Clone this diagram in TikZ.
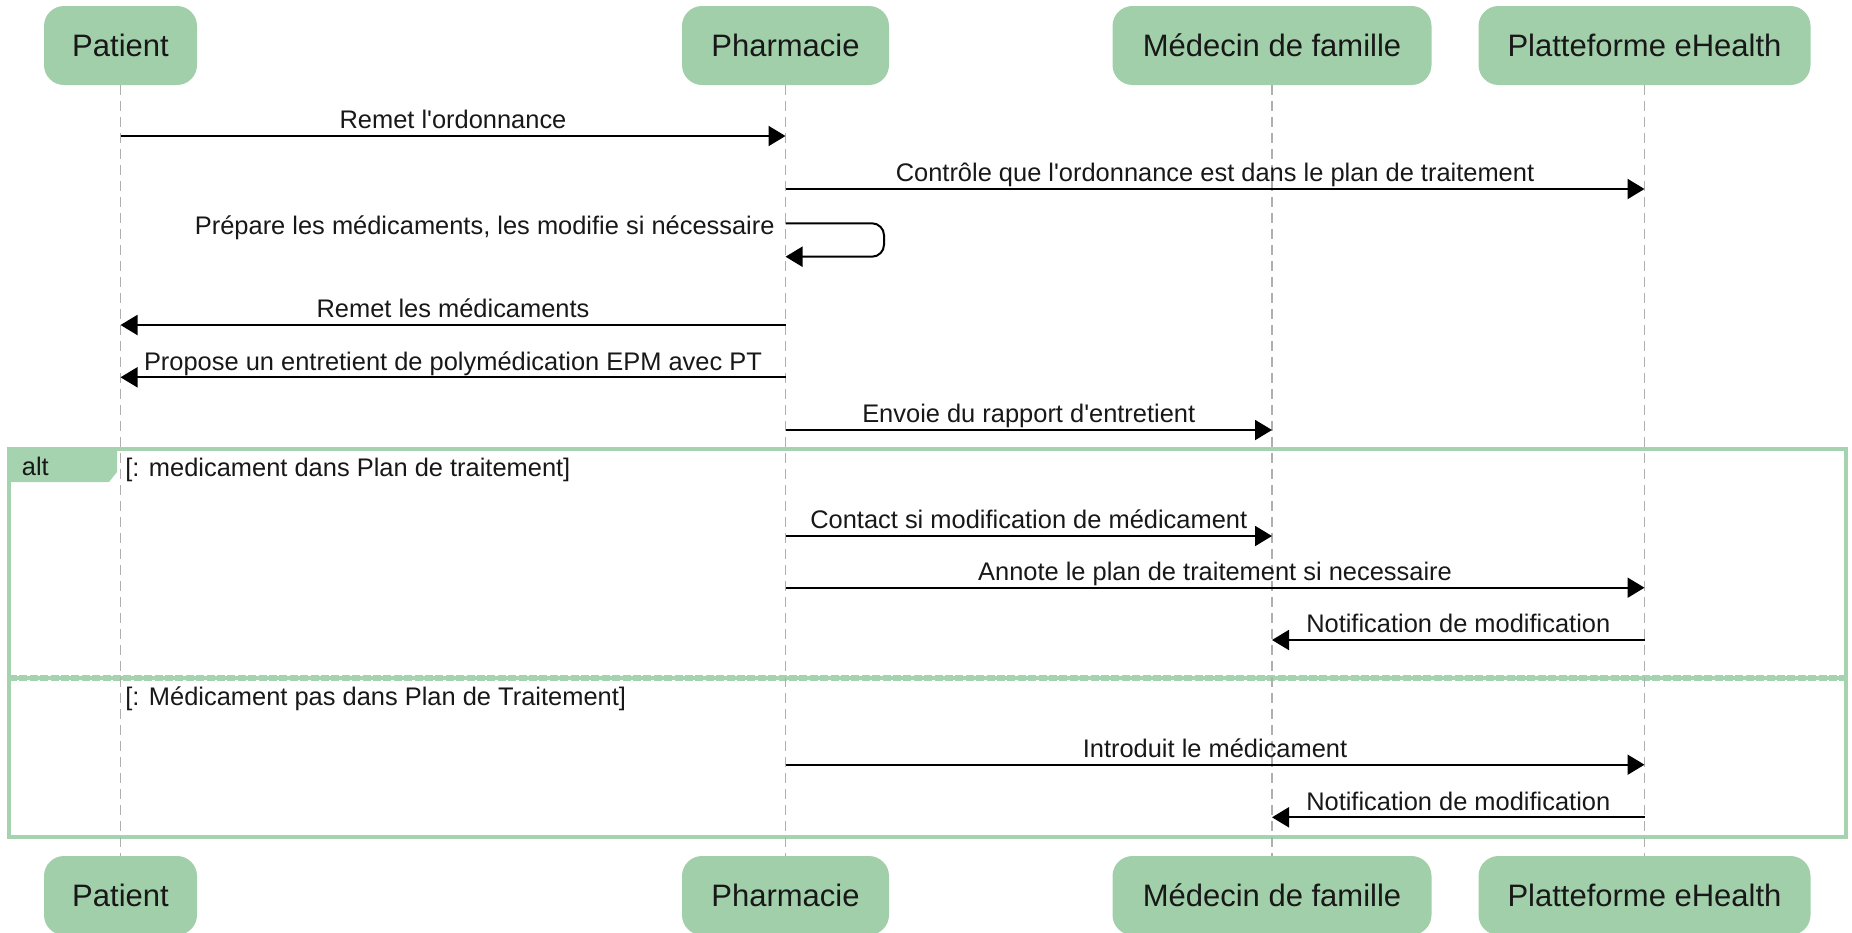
\documentclass[tikz,border=0pt]{standalone}
\usepackage{fontspec}
\setmainfont{Liberation Sans}[Ligatures=TeXOff]
\usetikzlibrary{arrows.meta}
\definecolor{boxgreen}{RGB}{161,207,169}
\definecolor{framegreen}{RGB}{166,211,175}
\definecolor{lifegray}{RGB}{175,175,175}
\definecolor{txt}{RGB}{24,24,24}
\begin{document}
\begin{tikzpicture}[x=0.5pt,y=-0.5pt,
  actor/.style={draw=none, fill=boxgreen, rounded corners=10pt, minimum height=39.5pt, inner sep=0pt, font=\fontsize{15.5}{18}\selectfont, text=txt},
  msg/.style={draw=black, line width=1pt, -{Triangle[length=8.5pt,width=10pt]}},
  lbl/.style={anchor=base, font=\fontsize{12.72}{15}\selectfont, text=txt, inner sep=0pt},
  lifeline/.style={draw=lifegray, line width=0.6pt, dash pattern=on 5pt off 3pt},
  frameline/.style={draw=framegreen, line width=2pt}
]
\useasboundingbox (0,0) rectangle (1852,932);
\clip (0,0) rectangle (1852,932);
\def\xP{120.5}
\def\xF{785.5}
\def\xM{1272}
\def\xE{1644.5}
% participants
\node[actor, minimum width=76.5pt] (pT) at (\xP,45.5) {Patient};
\node[actor, minimum width=103.5pt] (fT) at (\xF,45.5) {Pharmacie};
\node[actor, minimum width=159.5pt] (mT) at (\xM,45.5) {Médecin de famille};
\node[actor, minimum width=166pt] (eT) at (\xE,45.5) {Platteforme eHealth};
\node[actor, minimum width=76.5pt] (pB) at (\xP,895.5) {Patient};
\node[actor, minimum width=103.5pt] (fB) at (\xF,895.5) {Pharmacie};
\node[actor, minimum width=159.5pt] (mB) at (\xM,895.5) {Médecin de famille};
\node[actor, minimum width=166pt] (eB) at (\xE,895.5) {Platteforme eHealth};
% alt frame
\draw[frameline] (9,449) rectangle (1845.5,837);
\fill[framegreen] (9,449) -- (117,449) -- (117,472) -- (109,482) -- (9,482) -- cycle;
\node[lbl, anchor=base west] (altlbl) at (21.5,475) {alt};
\node[lbl, anchor=base west] (g1) at (125,476) {[: medicament dans Plan de traitement]};
\node[lbl, anchor=base west] (g2) at (125,705) {[: Médicament pas dans Plan de Traitement]};
\draw[framegreen, line width=1.6pt] (9,678) -- (1845.5,678);
\draw[framegreen, line width=2.8pt, dash pattern=on 4pt off 1.2pt] (9,678) -- (1845.5,678);
% lifelines
\draw[lifeline] (pT.south) -- (pB.north);
\draw[lifeline] (fT.south) -- (fB.north);
\draw[lifeline] (mT.south) -- (mB.north);
\draw[lifeline] (eT.south) -- (eB.north);
% message anchor points
\coordinate (a1) at (\xP,136);   \coordinate (b1) at (\xF,136);
\coordinate (a2) at (\xF,189);   \coordinate (b2) at (\xE,189);
\coordinate (s1) at (\xF,223.3); \coordinate (s2) at (\xF,256.7);
\coordinate (a4) at (\xF,325);   \coordinate (b4) at (\xP,325);
\coordinate (a5) at (\xF,377.3); \coordinate (b5) at (\xP,377.3);
\coordinate (a6) at (\xF,430);   \coordinate (b6) at (\xM,430);
\coordinate (a7) at (\xF,536);   \coordinate (b7) at (\xM,536);
\coordinate (a8) at (\xF,587.7); \coordinate (b8) at (\xE,587.7);
\coordinate (a9) at (\xE,640);   \coordinate (b9) at (\xM,640);
\coordinate (a10) at (\xF,764.7); \coordinate (b10) at (\xE,764.7);
\coordinate (a11) at (\xE,817.3); \coordinate (b11) at (\xM,817.3);
% messages
\draw[msg] (a1) -- (b1) node[lbl, midway, yshift=3.6pt] {Remet l'ordonnance};
\draw[msg] (a2) -- (b2) node[lbl, midway, yshift=3.6pt] {Contrôle que l'ordonnance est dans le plan de traitement};
\draw[msg, rounded corners=6pt] (s1) -- ++(98.5,0) |- (s2);
\node[lbl, anchor=base east] (sl) at (775,234.3) {Prépare les médicaments, les modifie si nécessaire};
\draw[msg] (a4) -- (b4) node[lbl, midway, yshift=3.6pt] {Remet les médicaments};
\draw[msg] (a5) -- (b5) node[lbl, midway, yshift=3.6pt] {Propose un entretient de polymédication EPM avec PT};
\draw[msg] (a6) -- (b6) node[lbl, midway, yshift=3.6pt] {Envoie du rapport d'entretient};
\draw[msg] (a7) -- (b7) node[lbl, midway, yshift=3.6pt] {Contact si modification de médicament};
\draw[msg] (a8) -- (b8) node[lbl, midway, yshift=3.6pt] {Annote le plan de traitement si necessaire};
\draw[msg] (a9) -- (b9) node[lbl, midway, yshift=3.6pt] {Notification de modification};
\draw[msg] (a10) -- (b10) node[lbl, midway, yshift=3.6pt] {Introduit le médicament};
\draw[msg] (a11) -- (b11) node[lbl, midway, yshift=3.6pt] {Notification de modification};
\end{tikzpicture}
\end{document}
